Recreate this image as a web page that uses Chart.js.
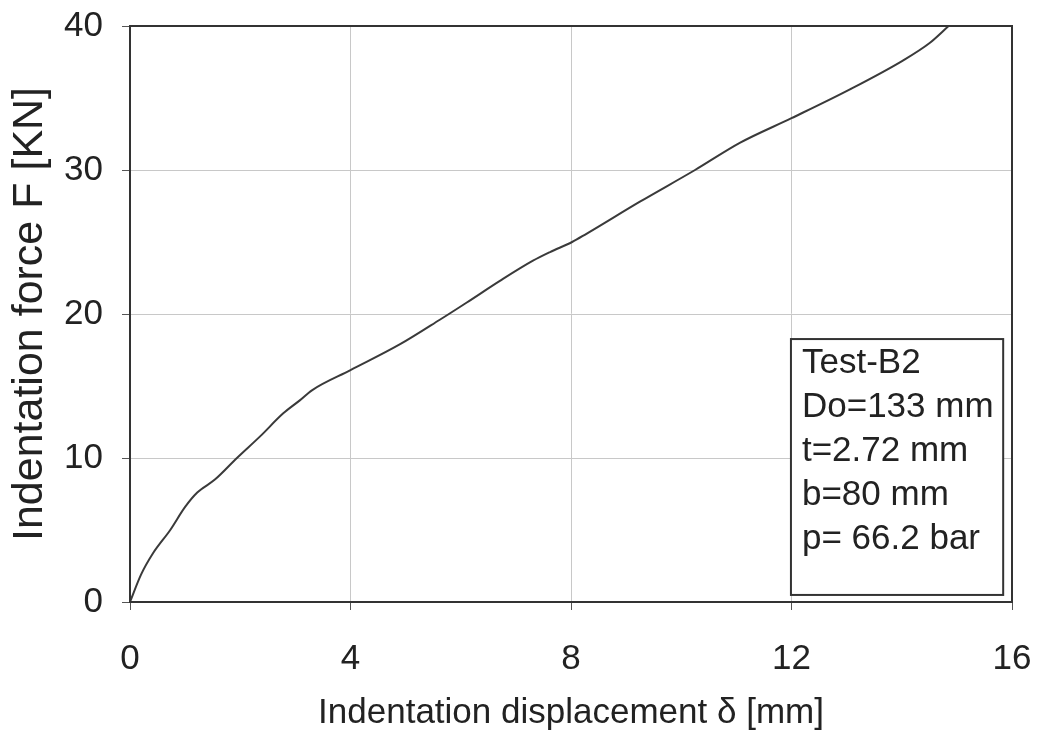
<!DOCTYPE html>
<html>
<head>
<meta charset="utf-8">
<script src="https://cdn.jsdelivr.net/npm/chart.js@4/dist/chart.umd.min.js"></script>
<style>
  html, body { margin: 0; padding: 0; background: #fff; }
  #wrap { width: 1041px; height: 736px; position: relative; }
</style>
</head>
<body>
<div id="wrap"><canvas id="c"></canvas></div>
<script>
// Data (displacement in mm, force in kN)
const displacement = [0, 0.2, 0.42, 0.73, 1.0, 1.22, 1.54, 1.94, 2.36, 2.78, 3.08, 3.3, 4.0, 4.9, 5.62, 6.11, 6.71, 7.31, 7.62, 8.02, 8.25, 9.25, 10.25, 11.07, 12.0, 13.06, 14.02, 14.5, 14.85];
const force        = [0, 1.9, 3.4, 5.0, 6.6, 7.6, 8.5, 10.0, 11.5, 13.1, 14.0, 14.7, 16.1, 17.9, 19.6, 20.8, 22.3, 23.7, 24.3, 25.0, 25.5, 27.8, 30.0, 31.9, 33.6, 35.6, 37.6, 38.8, 40.0];
const xTicks = [0, 4, 8, 12, 16];
const yTicks = [0, 10, 20, 30, 40];
const xTitle = 'Indentation displacement \u03B4 [mm]';
const yTitle = 'Indentation force F [KN]';
const infoLines = ['Test-B2', 'Do=133 mm', 't=2.72 mm', 'b=80 mm', 'p= 66.2 bar'];

const points = displacement.map((x, i) => ({ x: x, y: force[i] }));
const FONT = '"Liberation Sans", Arial, sans-serif';
const TEXT = '#222';

const frame = {
  id: 'frame',
  afterDatasetsDraw(chart) {
    const { ctx, chartArea: a } = chart;
    ctx.save();
    ctx.strokeStyle = '#333';
    ctx.lineWidth = 2;
    ctx.strokeRect(a.left, a.top, a.right - a.left, a.bottom - a.top);
    // info box (anchored in data space)
    const xs = chart.scales.x, ys = chart.scales.y;
    const bx = xs.getPixelForValue(11.99), by = ys.getPixelForValue(18.26);
    const bx2 = xs.getPixelForValue(15.84), by2 = ys.getPixelForValue(0.49);
    ctx.fillStyle = '#fff';
    ctx.fillRect(bx, by, bx2 - bx, by2 - by);
    ctx.strokeRect(bx, by, bx2 - bx, by2 - by);
    ctx.fillStyle = TEXT;
    ctx.font = '35px ' + FONT;
    ctx.textAlign = 'left';
    ctx.textBaseline = 'middle';
    infoLines.forEach((t, i) => ctx.fillText(t, bx + 11, by + 24 + i * 44));
    ctx.restore();
  }
};

new Chart(document.getElementById('c'), {
  type: 'scatter',
  data: {
    datasets: [{
      data: points,
      showLine: true,
      borderColor: '#3a3a3a',
      borderWidth: 2,
      pointRadius: 0,
      cubicInterpolationMode: 'monotone',
      fill: false
    }]
  },
  options: {
    responsive: true,
    maintainAspectRatio: false,
    animation: false,
    layout: { padding: { top: 26, right: 29, left: 0, bottom: 0 } },
    plugins: { legend: { display: false }, tooltip: { enabled: false } },
    scales: {
      x: {
        type: 'linear', min: 0, max: 16,
        afterBuildTicks: s => { s.ticks = xTicks.map(v => ({ value: v })); },
        afterFit: s => { s.height = 134; s.paddingLeft = 0; s.paddingRight = 0; },
        grid: { color: '#c8c8c8', lineWidth: 1, tickLength: 8, tickColor: '#555' },
        border: { color: '#333', width: 2 },
        ticks: { color: TEXT, font: { size: 35, family: FONT }, padding: 28, maxRotation: 0 },
        title: { display: true, text: xTitle, color: TEXT, font: { size: 35, family: FONT }, padding: { top: 0, bottom: 2 } }
      },
      y: {
        type: 'linear', min: 0, max: 40,
        afterBuildTicks: s => { s.ticks = yTicks.map(v => ({ value: v })); },
        afterFit: s => { s.width = 130; s.paddingTop = 0; s.paddingBottom = 0; },
        grid: { color: '#c8c8c8', lineWidth: 1, tickLength: 8, tickColor: '#555' },
        border: { color: '#333', width: 2 },
        ticks: { color: TEXT, font: { size: 35, family: FONT }, padding: 19 },
        title: { display: true, text: yTitle, color: TEXT, font: { size: 43, family: FONT }, padding: { top: 4, bottom: 0 } }
      }
    }
  },
  plugins: [frame]
});
</script>
</body>
</html>
